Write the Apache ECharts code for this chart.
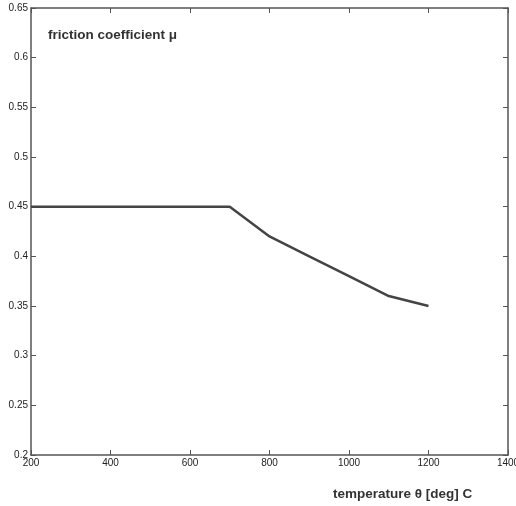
<!DOCTYPE html>
<html>
<head>
<meta charset="utf-8">
<script src="https://cdn.jsdelivr.net/npm/echarts@6/dist/echarts.min.js"></script>
<style>
  html, body { margin: 0; padding: 0; background: #fff; }
  #friction-graph { width: 516px; height: 506px; }
</style>
</head>
<body>
<div id="friction-graph"></div>
<script>
// temperature [deg C] vs friction coefficient
const temperatures = [200, 700, 800, 900, 1000, 1100, 1200];
const friction_values = [0.45, 0.45, 0.42, 0.40, 0.38, 0.36, 0.35];
const x_ticks = [200, 400, 600, 800, 1000, 1200, 1400];
const y_ticks = [0.2, 0.25, 0.3, 0.35, 0.4, 0.45, 0.5, 0.55, 0.6, 0.65];

const AXIS_COLOR = '#555';
const LABEL_STYLE = { color: '#222', fontFamily: 'Liberation Sans', fontSize: 10 };
const TITLE_STYLE = { fontFamily: 'Liberation Sans', fontSize: 13.5, fontWeight: 'bold', color: '#333' };

let friction_graph = echarts.init(document.getElementById('friction-graph'));

function frame_axis(position, show_labels) {
    return {
        type: 'value',
        position: position,
        axisLine: { show: true, onZero: false, lineStyle: { color: AXIS_COLOR, width: 1.5 } },
        axisTick: { show: true, inside: true, length: 5, lineStyle: { color: AXIS_COLOR } },
        axisLabel: Object.assign({ show: show_labels, margin: 3, formatter: (v) => String(v) }, LABEL_STYLE),
        splitLine: { show: false }
    };
}

let x_bottom = Object.assign(frame_axis('bottom', true), {
    min: x_ticks[0], max: x_ticks[x_ticks.length - 1], interval: 200
});
let x_top = Object.assign(frame_axis('top', false), {
    min: x_ticks[0], max: x_ticks[x_ticks.length - 1], interval: 200
});
let y_left = Object.assign(frame_axis('left', true), {
    min: y_ticks[0], max: y_ticks[y_ticks.length - 1], interval: 0.05
});
let y_right = Object.assign(frame_axis('right', false), {
    min: y_ticks[0], max: y_ticks[y_ticks.length - 1], interval: 0.05
});

let options = {
    animation: false,
    backgroundColor: '#fff',
    title: [
        { text: 'friction coefficient μ', left: 48, top: 28, padding: 0, textStyle: TITLE_STYLE },
        { text: 'temperature θ [deg] C', left: 333, top: 487, padding: 0, textStyle: TITLE_STYLE }
    ],
    grid: { left: 31, top: 8, right: 8, bottom: 51, outerBoundsMode: 'none', containLabel: false },
    xAxis: [x_bottom, x_top],
    yAxis: [y_left, y_right],
    series: [
        {
            type: 'line',
            data: temperatures.map((t, i) => [t, friction_values[i]]),
            showSymbol: false,
            lineStyle: { color: '#444', width: 2.5 }
        }
    ]
};

friction_graph.setOption(options);
</script>
</body>
</html>
